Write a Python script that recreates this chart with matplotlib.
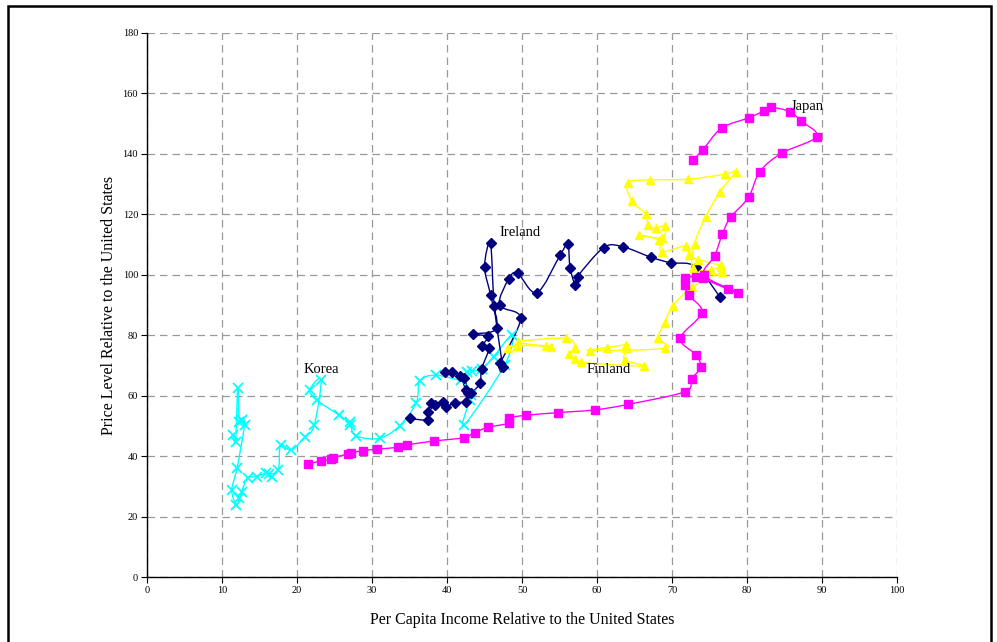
import matplotlib
matplotlib.use("Agg")
import matplotlib.pyplot as plt
import numpy as np
from matplotlib.path import Path
from matplotlib.patches import PathPatch, Rectangle

# Per capita income (x) and price level (y), both relative to the United States
korea_x = [11.5, 11.8, 12.1, 12.3, 12.7, 13.0, 12.0, 11.3, 11.9, 12.3, 12.6,
           13.4, 14.6, 15.9, 16.6, 16.3, 17.5, 17.8, 19.2, 21.1, 22.3, 23.2,
           21.7, 22.6, 25.6, 27.0, 27.1, 27.9, 31.0, 33.7, 35.9, 36.4, 38.5,
           41.9, 42.6, 43.3, 44.6, 46.2, 48.7, 47.7, 42.3, 43.0, 43.2]
korea_y = [47.0, 44.8, 62.4, 51.4, 51.8, 50.3, 36.0, 28.8, 23.8, 26.0, 28.2,
           32.7, 33.2, 34.3, 33.2, 34.0, 35.4, 43.7, 42.0, 46.4, 50.3, 65.2,
           61.9, 58.6, 53.6, 51.2, 50.4, 46.7, 45.9, 50.1, 57.7, 64.9, 66.8,
           65.2, 67.9, 68.2, 68.7, 72.9, 80.1, 70.2, 50.3, 58.6, 60.2]

ireland_x = [35.0, 37.4, 37.4, 37.9, 38.4, 39.4, 39.9, 41.1, 42.5, 42.8, 42.2,
             40.6, 39.7, 41.7, 42.5, 43.2, 44.4, 44.6, 45.6, 44.7, 45.4, 43.5,
             46.6, 45.8, 45.0, 45.8, 46.3, 47.4, 47.1, 49.8, 47.0, 48.2, 49.4,
             52.0, 55.1, 56.1, 56.4, 57.1, 57.4, 60.9, 63.4, 67.2, 69.8, 73.2,
             76.4]
ireland_y = [52.5, 52.0, 54.7, 57.5, 57.0, 58.0, 56.4, 57.7, 58.0, 60.8, 65.8,
             67.9, 67.9, 66.6, 61.9, 61.0, 64.2, 68.8, 75.7, 76.4, 79.6, 80.4,
             82.3, 93.3, 102.7, 110.4, 89.7, 69.6, 70.7, 85.6, 90.0, 98.5, 100.5,
             94.1, 106.6, 110.1, 102.4, 96.6, 99.4, 109.0, 109.3, 105.8, 104.0,
             102.7, 92.6]

finland_x = [48.1, 49.3, 53.2, 53.8, 49.5, 55.9, 57.0, 56.2, 57.0, 57.9, 66.2,
             63.7, 63.9, 63.8, 61.3, 59.0, 69.1, 68.1, 69.0, 70.1, 72.7, 76.6,
             76.5, 75.2, 72.8, 73.0, 74.5, 76.4, 78.5, 77.1, 72.1, 67.0, 64.1,
             64.6, 66.5, 66.8, 67.8, 69.0, 68.7, 65.6, 68.3, 68.6, 71.8, 72.3,
             73.5, 76.5]
finland_y = [75.7, 76.6, 76.4, 76.2, 77.8, 79.0, 75.7, 73.8, 72.0, 71.0, 69.8,
             71.8, 75.7, 76.8, 75.9, 74.9, 75.7, 79.0, 84.0, 89.7, 95.9, 101.0,
             102.7, 101.6, 102.2, 110.2, 119.2, 127.5, 134.1, 133.3, 131.6, 131.4,
             130.5, 124.5, 120.1, 116.5, 115.4, 116.1, 112.1, 113.2, 111.5, 107.6,
             109.5, 106.6, 105.0, 103.2]

japan_x = [21.4, 23.2, 24.5, 24.8, 26.8, 27.2, 28.8, 30.6, 33.4, 34.6, 38.3,
           42.2, 43.7, 45.4, 48.2, 48.2, 50.5, 54.8, 59.7, 64.1, 71.7, 72.6,
           73.8, 73.2, 71.1, 74.0, 72.2, 71.7, 71.7, 73.2, 74.1, 77.4, 78.8,
           74.3, 75.7, 76.7, 77.8, 80.2, 81.7, 84.6, 89.3, 87.2, 85.7, 83.2,
           82.3, 80.3, 76.6, 74.1, 72.8]
japan_y = [37.4, 38.4, 38.9, 39.5, 40.7, 41.1, 41.8, 42.3, 42.9, 43.7, 45.0,
           46.1, 47.8, 49.5, 50.9, 52.6, 53.5, 54.4, 55.3, 57.1, 61.3, 65.5,
           69.4, 73.5, 79.0, 87.5, 93.3, 96.6, 98.8, 99.4, 98.8, 95.3, 94.1,
           99.9, 106.3, 113.4, 119.0, 125.6, 134.1, 140.2, 145.7, 150.9, 154.0,
           155.4, 154.3, 152.0, 148.5, 141.3, 138.0]

country_names = ["Korea", "Ireland", "Finland", "Japan"]
label_x = [23.3, 49.7, 61.5, 88.0]
label_y = [68.5, 114.0, 68.5, 155.8]

x_ticks = list(range(0, 101, 10))
y_ticks = list(range(0, 181, 20))

SERIF = ["Liberation Serif", "DejaVu Serif"]


def smooth_path(xs, ys):
    """Cubic Bezier path through the points (cardinal spline, Excel-style)."""
    p = np.column_stack([xs, ys]).astype(float)
    n = len(p)
    verts = [p[0]]
    codes = [Path.MOVETO]
    for i in range(n - 1):
        p0 = p[i - 1] if i > 0 else p[i]
        p1 = p[i]
        p2 = p[i + 1]
        p3 = p[i + 2] if i + 2 < n else p[i + 1]
        c1 = p1 + (p2 - p0) / 6.0
        c2 = p2 - (p3 - p1) / 6.0
        verts += [c1, c2, p2]
        codes += [Path.CURVE4] * 3
    return Path(verts, codes)


fig = plt.figure(figsize=(9.97, 6.42), dpi=100)
ax = fig.add_axes([0.1475, 0.1012, 0.7522, 0.8474])

series = [
    (korea_x, korea_y, "#00FFFF", "x", 6.5, 1.3),
    (ireland_x, ireland_y, "#000080", "D", 4.6, 1.0),
    (finland_x, finland_y, "#FFFF00", "^", 6.0, 1.0),
    (japan_x, japan_y, "#FF00FF", "s", 6.0, 1.0),
]

for xs, ys, col, mk, ms, mew in series:
    ax.add_patch(PathPatch(smooth_path(xs, ys), facecolor="none",
                           edgecolor=col, lw=1.0, zorder=3))
    ax.plot(xs, ys, linestyle="none", marker=mk, markersize=ms, color=col,
            markeredgecolor=col, markeredgewidth=mew, zorder=4)

for name, lx, ly in zip(country_names, label_x, label_y):
    ax.text(lx, ly, name, ha="center", va="center", fontsize=10.5,
            family=SERIF, color="black", zorder=5)

ax.set_xlim(0, 100)
ax.set_ylim(0, 180)
ax.set_xticks(x_ticks)
ax.set_yticks(y_ticks)
ax.set_xticklabels([str(v) for v in x_ticks], family=SERIF, fontsize=7.5)
ax.set_yticklabels([str(v) for v in y_ticks], family=SERIF, fontsize=7.5)
ax.tick_params(direction="out", length=4, width=0.8, pad=2.5)

ax.grid(True, color="#999999", linestyle=(0, (6, 4)), linewidth=0.9, zorder=0)
ax.set_axisbelow(True)
for side in ("top", "right"):
    ax.spines[side].set_visible(False)
for side in ("left", "bottom"):
    ax.spines[side].set_linewidth(1.0)

ax.set_xlabel("Per Capita Income Relative to the United States",
              family=SERIF, fontsize=11.5, labelpad=12)
ax.set_ylabel("Price Level Relative to the United States",
              family=SERIF, fontsize=11.5, labelpad=4)

# Outer frame, open at the bottom edge of the image
fig.patches.append(Rectangle((8 / 997, -0.05), (991 - 8) / 997, 1.05 - 6 / 642,
                             transform=fig.transFigure, fill=False,
                             edgecolor="black", linewidth=1.8, zorder=10))

fig.savefig("out.png", dpi=100)
